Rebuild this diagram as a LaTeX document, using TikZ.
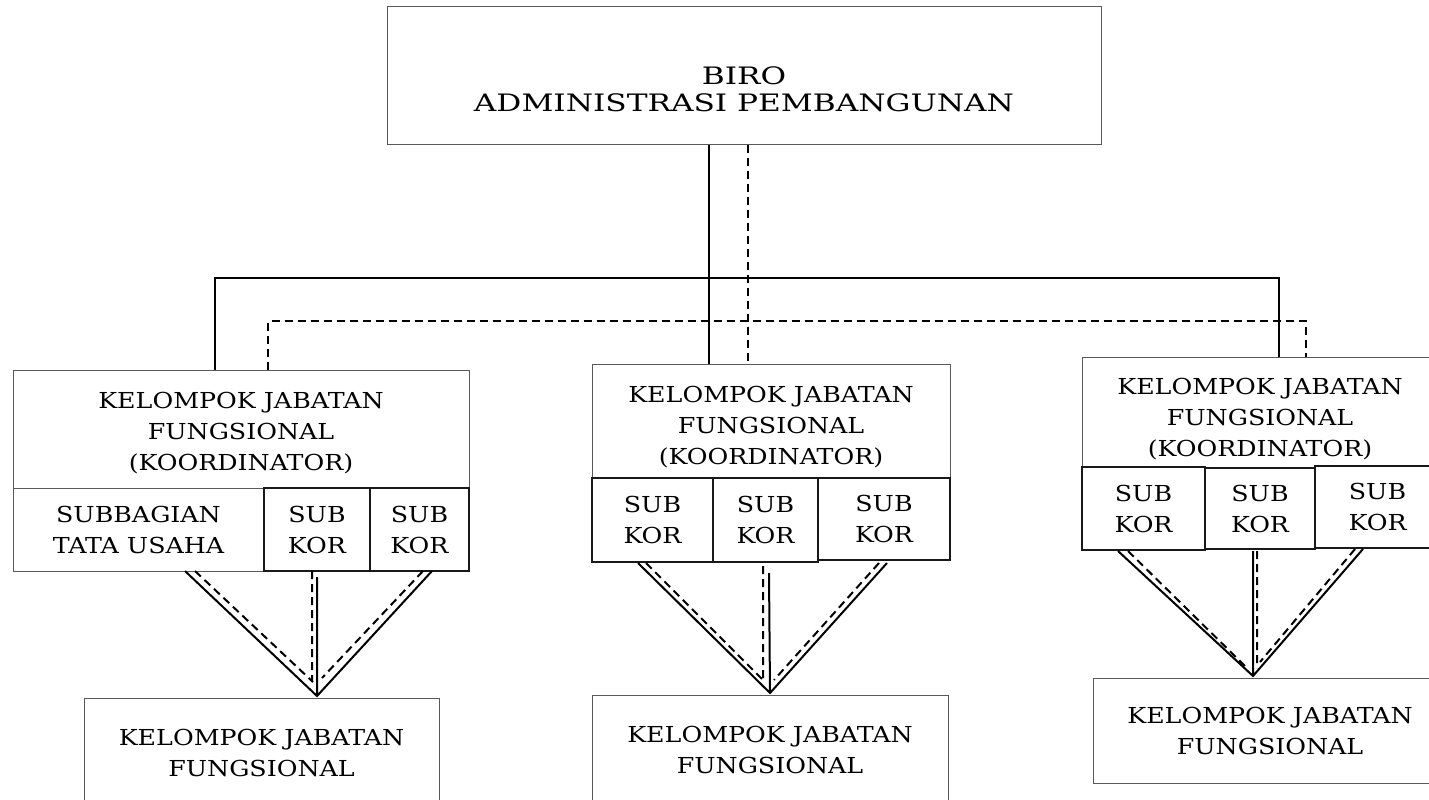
\documentclass[tikz,border=0pt]{standalone}
\usepackage{fontspec}
\setmainfont{DejaVu Serif}[FakeStretch=1.15]
\newfontfamily\birofont{DejaVu Serif}[FakeStretch=1.3]
\usetikzlibrary{positioning,calc}

\newcommand{\isi}{\fontsize{11}{15.5}\selectfont}
\newcommand{\isibiro}{\birofont\fontsize{12}{13.5}\selectfont}

\tikzset{
  ukuran/.style 2 args={minimum width=#1*0.5pt, minimum height=#2*0.5pt},
  kotak/.style={draw=black!65, fill=white, line width=0.5pt, align=center, inner sep=0pt, font=\isi},
  subkor/.style={draw=black!90, fill=white, line width=0.75pt, align=center, inner sep=0pt, font=\isi},
  garis/.style={black, line width=1pt},
  putus/.style={black, line width=1pt, dash pattern=on 4pt off 2.5pt},
}

\begin{document}
\begin{tikzpicture}[x=0.5pt,y=-0.5pt]
  \path[use as bounding box] (0,0) rectangle (1429,799);
  \clip (0,0) rectangle (1429,799);

  \node[kotak, ukuran={714}{138}] (biro) at (744,75) {};
  \node[font=\isibiro, align=center, inner sep=0pt] (birotxt) at (744,89) {BIRO\\ADMINISTRASI PEMBANGUNAN};

  \node[kotak, ukuran={456}{126}] (kjfA) at (241,433) {KELOMPOK JABATAN\\FUNGSIONAL\\(KOORDINATOR)};
  \node[kotak, ukuran={251}{83}] (tuA) at (138.5,529.5) {SUBBAGIAN\\TATA USAHA};
  \node[subkor, ukuran={106}{83}] (skA1) at (317,529.5) {SUB\\KOR};
  \node[subkor, ukuran={99}{83}] (skA2) at (419.5,529.5) {SUB\\KOR};

  \node[kotak, ukuran={358}{126}] (kjfB) at (771,427) {KELOMPOK JABATAN\\FUNGSIONAL\\(KOORDINATOR)};
  \node[subkor, ukuran={121}{84}] (skB1) at (652.5,520) {SUB\\KOR};
  \node[subkor, ukuran={105}{84}] (skB2) at (765.5,520) {SUB\\KOR};
  \node[subkor, ukuran={132}{82}] (skB3) at (884,519) {SUB\\KOR};

  \node[kotak, ukuran={356}{124}] (kjfC) at (1260,419) {KELOMPOK JABATAN\\FUNGSIONAL\\(KOORDINATOR)};
  \node[subkor, ukuran={123}{83}] (skC1) at (1143.5,508.5) {SUB\\KOR};
  \node[subkor, ukuran={110}{81}] (skC2) at (1260,508.5) {SUB\\KOR};
  \node[subkor, ukuran={125}{82}] (skC3) at (1377.5,507) {SUB\\KOR};

  \node[kotak, ukuran={355}{110}] (kjfA2) at (261.5,753) {KELOMPOK JABATAN\\FUNGSIONAL};
  \node[kotak, ukuran={356}{110}] (kjfB2) at (770,750) {KELOMPOK JABATAN\\FUNGSIONAL};
  \node[kotak, ukuran={354}{105}] (kjfC2) at (1270,730.5) {KELOMPOK JABATAN\\FUNGSIONAL};

  \coordinate (busL) at (215,278);
  \coordinate (busM) at (709,278);
  \coordinate (busR) at (1279,278);
  \coordinate (dbusL) at (268,321);
  \coordinate (dbusM) at (748,321);
  \coordinate (dbusR) at (1306,321);
  \draw[garis] (busL |- kjfA.north) -- (busL) -- (busR) -- (busR |- kjfC.north);
  \draw[garis] (busM |- biro.south) -- (busM |- kjfB.north);
  \draw[putus] (dbusL |- kjfA.north) -- (dbusL) -- (dbusR) -- (dbusR |- kjfC.north);
  \draw[putus] (dbusM |- biro.south) -- (dbusM |- kjfB.north);

  \coordinate (vA) at (317,696);
  \coordinate (vA1) at (185,571);
  \coordinate (vA2) at (317,577);
  \coordinate (vA3) at (432,571);
  \coordinate (dA1) at (195,571);
  \coordinate (dA2) at (312,571);
  \coordinate (dA3) at (423,571);
  \coordinate (eA1) at (313,682);
  \coordinate (eA2) at (312,682);
  \coordinate (eA3) at (322,678);
  \draw[garis] (vA1) -- (vA) -- (vA3) (vA2) -- (vA);
  \draw[putus] (dA1) -- (eA1) (dA2) -- (eA2) (dA3) -- (eA3);

  \coordinate (vB) at (770,693);
  \coordinate (vB1) at (638,563);
  \coordinate (vB2) at (769,573);
  \coordinate (vB3) at (887,563);
  \coordinate (dB1) at (646,563);
  \coordinate (dB2) at (763,566);
  \coordinate (dB3) at (879,563);
  \coordinate (eB1) at (763,680);
  \coordinate (eB2) at (763,680);
  \coordinate (eB3) at (774,680);
  \draw[garis] (vB1) -- (vB) -- (vB3) (vB2) -- (vB);
  \draw[putus] (dB1) -- (eB1) (dB2) -- (eB2) (dB3) -- (eB3);

  \coordinate (vC) at (1253,676);
  \coordinate (vC1) at (1118,551);
  \coordinate (vC2) at (1253,551);
  \coordinate (vC3) at (1363,549);
  \coordinate (dC1) at (1128,551);
  \coordinate (dC2) at (1257,551);
  \coordinate (dC3) at (1355,549);
  \coordinate (eC1) at (1247,668);
  \coordinate (eC2) at (1257,668);
  \coordinate (eC3) at (1260,662);
  \draw[garis] (vC1) -- (vC) -- (vC3) (vC2) -- (vC);
  \draw[putus] (dC1) -- (eC1) (dC2) -- (eC2) (dC3) -- (eC3);
\end{tikzpicture}
\end{document}
